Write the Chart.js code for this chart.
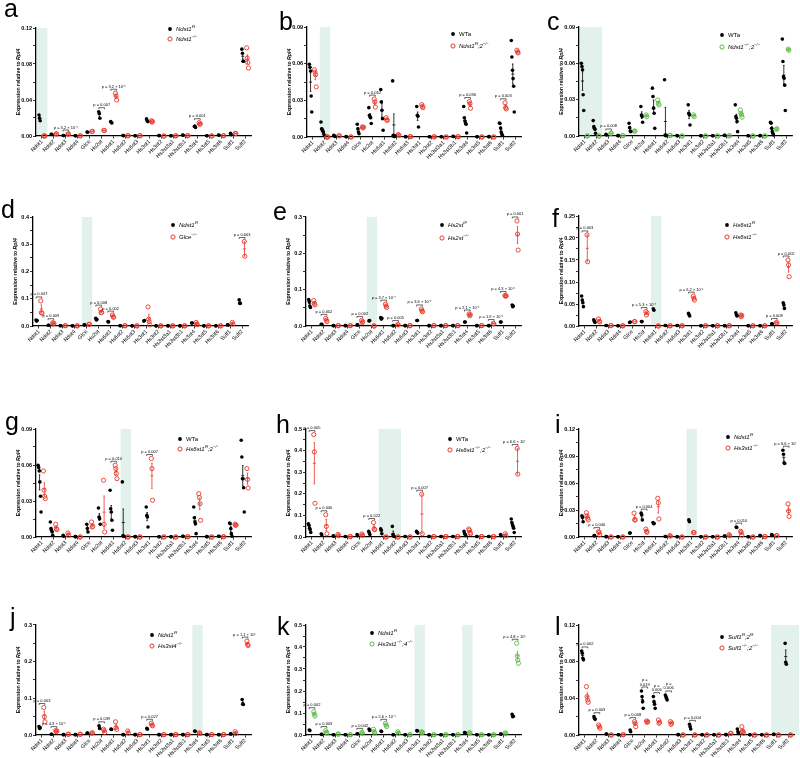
<!DOCTYPE html>
<html>
<head>
<meta charset="utf-8">
<script src="https://cdn.jsdelivr.net/npm/chart.js@4.4.0/dist/chart.umd.min.js"></script>
<style>
  body { margin: 0; background: #fff; }
  #wrap { position: relative; width: 800px; height: 758px; overflow: hidden; font-family: "Liberation Sans", Arial, sans-serif; }
  #wrap canvas { position: absolute; }
  .letter { position: absolute; font-size: 25px; line-height: 25px; color: #000; }
</style>
</head>
<body>
<div id="wrap"></div>
<script>
const genes = ['Ndst1','Ndst2','Ndst3','Ndst4','Glce','Hs2st','Hs6st1','Hs6st2','Hs6st3','Hs3st1','Hs3st2','Hs3st3a1','Hs3st3b1','Hs3st4','Hs3st5','Hs3st6','Sulf1','Sulf2'];

// replicate values per gene (same order as genes), control group then mutant group
const aCtrl = [[0.0234,0.0197,0.017],[0.002,0.0018],[0.0005,0.0006],[0.0002,0.0002],[0.0045,0.0042],[0.027,0.025,0.0197],[0.016,0.015,0.0145],[0.0005,0.0004],[0.0003,0.0003],[0.019,0.017,0.016],[0.0005,0.0004],[0.0003,0.0002],[0.001,0.0008],[0.0105,0.011,0.0095],[0.0002,0.0002],[0.001,0.0009],[0.003,0.0015],[0.0965,0.092,0.083,0.083]];
const aMut = [[0,0,0],[0.0022,0.0024],[0.002,0.0022],[0.0002,0.0002],[0.005,0.0052],[0.0063,0.006],[0.0475,0.0445,0.040],[0.0003,0.0003],[0.0003,0.0003],[0.017,0.0155,0.016],[0,0],[0.0002,0.0002],[0.0003,0.0003],[0.0148,0.013,0.0135],[0,0],[0.0003,0.0003],[0.003,0.0028],[0.098,0.0865,0.0815,0.0755]];

const bCtrl = [[0.0595,0.057,0.054,0.0336,0.0205],[0.0123,0.0068,0.006,0.005,0.004,0.002],[0.0014,0.0008,0.0005],[0.0003,0.0002],[0.0104,0.0068,0.004,0.0027],[0.024,0.0177,0.0164,0.0158,0.011],[0.0388,0.0287,0.0218,0.015,0.0055],[0.0459,0.0014,0.0005,0.0005,0.001],[0.0003,0.0002],[0.025,0.0178,0.017,0.0082],[0.0002,0.0002],[0.0002,0.0002],[0.0005,0.0004],[0.025,0.0158,0.0131,0.0115,0.0104,0.0033],[0.0002,0.0002],[0.0003,0.0003],[0.0115,0.011,0.0074,0.004,0.0027,0.0014],[0.079,0.0655,0.0546,0.0478,0.0415,0.0205]];
const bMut = [[0.055,0.053,0.051,0.041],[0,0,0],[0.001,0.001],[0,0],[0.0082,0.0074,0.008],[0.031,0.0287,0.0245],[0.0158,0.014,0.0136],[0.002,0.0014],[0.0003,0.0002],[0.0265,0.025,0.024],[0.0002,0.0001],[0,0],[0.0003,0.0002],[0.029,0.0273,0.0235],[0,0],[0,0],[0.028,0.024,0.023],[0.071,0.0696,0.0688]];

const cCtrl = [[0.060,0.0574,0.0546,0.034,0.021],[0.0127,0.0077,0.0063,0.0055,0.0022],[0.0014,0.0008],[0.0003,0.0003],[0.0105,0.0069,0.0041,0.0036],[0.0243,0.0174,0.016,0.0113],[0.0395,0.0326,0.0229,0.0188,0.0063],[0.0464,0.0008,0.0003,0.0005],[0.0003,0.0002],[0.0257,0.0188,0.0174,0.0091],[0.0002,0.0002],[0.0002,0.0002],[0.0006,0.0005],[0.0257,0.016,0.0146,0.0119,0.0036],[0.0002,0.0002],[0.0003,0.0003],[0.0113,0.0105,0.0063,0.0036,0.0022,0.0008],[0.080,0.0615,0.049,0.0477,0.042,0.021]];
const cMut = [[0,0],[0,0],[0.002,0.0025],[0.0003,0.0003],[0.0041,0.004],[0.0174,0.016],[0.0298,0.027,0.0257],[0.0005,0.0005],[0,0],[0.0174,0.016],[0,0],[0,0],[0.0002,0.0002],[0.0215,0.0188,0.0174,0.0155],[0,0],[0,0],[0.0055,0.006],[0.0718,0.0707]];

const dCtrl = [[0.022,0.018,0.02],[0.003,0.003],[0.001,0.001],[0.0005,0.0005],[0.004,0.004],[0.028,0.022,0.024],[0.016,0.015],[0.001,0.001],[0.0005,0.0005],[0.018,0.02],[0.0005,0.0005],[0.0005,0.0005],[0.0005,0.0005],[0.011,0.011],[0.0005,0.0005],[0.0005,0.0005],[0.004,0.004],[0.096,0.083,0.083]];
const dMut = [[0.092,0.049,0.047],[0.012,0.007,0.01],[0.001,0.001],[0.0005,0.0005],[0.006,0.006],[0.062,0.049,0.05],[0.04,0.034,0.032],[0.001,0.001],[0.0005,0.0005],[0.07,0.025,0.016,0.004],[0.0005,0.0005],[0.0005,0.0005],[0.0005,0.0005],[0.013,0.007,0.005],[0.0005,0.0005],[0.0005,0.0005],[0.013,0.007],[0.31,0.256]];

const eCtrl = [[0.073,0.067,0.055,0.051],[0.005,0.005],[0.001,0.001],[0.001,0.001],[0.003,0.003],[0.014,0.015],[0.023,0.019,0.021],[0.001,0.001],[0.001,0.001],[0.015,0.015],[0.001,0.001],[0.001,0.001],[0.001,0.001],[0.011,0.011],[0.001,0.001],[0.001,0.001],[0.011,0.011],[0.058,0.053,0.055]];
const eMut = [[0.07,0.062,0.058],[0.021,0.016,0.012],[0.001,0.001],[0.001,0.001],[0.015,0.009,0.012],[0,0],[0.06,0.055,0.051],[0.004,0.003],[0.001,0.001],[0.047,0.042,0.039],[0.001,0.001],[0.001,0.001],[0.001,0.001],[0.033,0.028,0.031],[0.001,0.001],[0.007,0.006],[0.084,0.082,0.083],[0.289,0.253,0.209]];

const fCtrl = [[0.068,0.059,0.053,0.044],[0.014,0.01,0.008],[0.001,0.001],[0.0005,0.0005],[0.008,0.009],[0.01,0.01],[0.039,0.036],[0.001,0.001],[0.001,0.001],[0.029,0.025,0.023],[0.0005,0.0005],[0.0005,0.0005],[0.0005,0.0005],[0.03,0.025,0.023],[0.0005,0.0005],[0.0005,0.0005],[0.005,0.005],[0.053,0.048,0.04]];
const fMut = [[0.207,0.146],[0.016,0.011,0.009],[0.001,0.001],[0.0005,0.0005],[0.01,0.01],[0.033,0.025,0.03],[0,0],[0.0005,0.0005],[0.0005,0.0005],[0.068,0.063,0.059],[0.0005,0.0005],[0.0005,0.0005],[0.0005,0.0005],[0.025,0.021,0.024],[0.0005,0.0005],[0.0005,0.0005],[0.008,0.007],[0.15,0.139,0.112]];

const gCtrl = [[0.0598,0.0579,0.0551,0.0459,0.0339,0.0208],[0.0125,0.007,0.0056,0.0042,0.0014],[0.0014,0.0006],[0.0003,0.0003],[0.0106,0.007,0.0042],[0.0242,0.0167,0.0153,0.0106],[0.039,0.0236,0.0208,0.0139,0.0056],[0.0459,0.0011,0.0006,0.0006],[0.0003,0.0003],[0.025,0.018,0.0167,0.0083],[0.0002,0.0002],[0.0002,0.0002],[0.0006,0.0005],[0.025,0.0161,0.0125,0.0111,0.0028],[0.0003,0.0003],[0.0006,0.0005],[0.0117,0.0111,0.007,0.0028,0.0006],[0.0806,0.0667,0.0486,0.0486,0.0411,0.0208]];
const gMut = [[0.055,0.039,0.034,0.032],[0.0106,0.007,0.0061],[0.0033,0.0014],[0,0],[0.0125,0.0083,0.0089],[0.0473,0.0106,0.0042],[0.0598,0.057,0.0528,0.0486],[0,0],[0,0],[0.0654,0.057,0.0306],[0,0],[0,0],[0.0002,0.0002],[0.0361,0.0328,0.0278,0.0139],[0,0],[0.0002,0.0002],[0.0106,0.0097,0.01],[0.057,0.048,0.0408]];

const hCtrl = [[0.061,0.054,0.041,0.034,0.021],[0.015,0.009],[0.005,0.004],[0.002,0.002],[0.011,0.006],[0.026,0.018,0.011],[0.038,0.031,0.015],[0.049,0.011,0.005,0.002],[0.002,0.002],[0.026,0.021,0.018],[0.002,0.002],[0.002,0.002],[0.002,0.002],[0.026,0.015,0.011,0.006],[0.002,0.002],[0.002,0.002],[0.011,0.006],[0.083,0.067,0.057,0.049,0.041,0.021]];
const hMut = [[0.474,0.394,0.156],[0.103,0.049,0.015],[0.012,0.006],[0.002,0.002],[0.014,0.008],[0.067,0.037,0.034],[0,0],[0,0],[0,0],[0.198,0.015],[0.002,0.002],[0.002,0.002],[0.002,0.002],[0.037,0.031,0.021,0.015],[0.002,0.002],[0.002,0.002],[0.015,0.006],[0.41,0.291]];

const iCtrl = [[0.0235,0.022,0.017],[0.0015,0.0015],[0.0004,0.0004],[0.0002,0.0002],[0.0044,0.0044],[0.0265,0.0247,0.019],[0.016,0.0147,0.015],[0.0005,0.0005],[0.0003,0.0003],[0.019,0.017],[0.0003,0.0003],[0.0002,0.0002],[0.001,0.001],[0.011,0.0105],[0.0002,0.0002],[0.0015,0.0015],[0.0026,0.0018],[0.0964,0.092,0.0824,0.0817]];
const iMut = [[0.027,0.0235,0.021,0.019],[0.006,0.005,0.0026],[0,0],[0,0],[0.0265,0.019,0.019],[0.0088,0.0063,0.0052],[0.043,0.038,0.02],[0.0015,0.001],[0,0],[0.005,0.005],[0,0],[0,0],[0.0026,0.0015],[0.0063,0.005,0.002],[0,0],[0.0005,0.0005],[0.0015,0.0015],[0.0368,0.029,0.0228]];

const jCtrl = [[0.023,0.018,0.02],[0.002,0.002],[0.001,0.001],[0.001,0.001],[0.005,0.005],[0.025,0.018],[0.016,0.015],[0.001,0.001],[0.001,0.001],[0.018,0.016],[0.001,0.001],[0.001,0.001],[0.001,0.001],[0.011,0.01],[0.001,0.001],[0.001,0.001],[0.003,0.003],[0.097,0.084,0.083]];
const jMut = [[0.075,0.05,0.036],[0.012,0.009,0.011],[0.002,0.002],[0.002,0.002],[0.005,0.006],[0.016,0.012,0.007],[0.036,0.02,0.015],[0.011,0.005],[0.001,0.001],[0.032,0.027,0.025],[0.001,0.001],[0.001,0.001],[0.001,0.001],[0.006,0.004],[0.001,0.001],[0.001,0.001],[0.009,0.004],[0.256,0.247,0.244]];

const kCtrl = [[0.023,0.02],[0.003,0.003],[0.001,0.001],[0.001,0.001],[0.006,0.006],[0.027,0.021],[0.018,0.016],[0.001,0.001],[0.001,0.001],[0.02,0.018],[0.001,0.001],[0.001,0.001],[0.001,0.001],[0.011,0.01],[0.001,0.001],[0.001,0.001],[0.004,0.004],[0.094,0.083,0.085]];
const kMut = [[0.106,0.095,0.086],[0.02,0.012,0.008],[0.004,0.004],[0.001,0.001],[0.012,0.008],[0.026,0.015,0.009],[0.053,0.045,0.038],[0.015,0.008],[0.001,0.001],[0.015,0.01,0.012],[0.001,0.001],[0.001,0.001],[0.001,0.001],[0.01,0.009],[0.001,0.001],[0.001,0.001],[0.01,0.006],[0.417,0.36,0.341,0.326]];

const lCtrl = [[0.0917,0.0892,0.0837,0.082],[0.02,0.0182,0.0171],[0.0011,0.0011],[0.0003,0.0003],[0.0055,0.0036],[0.048,0.0419,0.0364,0.0291],[0.0419,0.0364,0.0335,0.0291],[0.0437,0.0419,0.04,0.0382],[0.0004,0.0004],[0.0116,0.0091,0.0065],[0.0002,0.0002],[0.0002,0.0002],[0.0004,0.0004],[0.0065,0.0036,0.0018],[0.0002,0.0002],[0.0002,0.0002],[0.0007,0.0007],[0.1,0.0794,0.0772]];
const lMut = [[0.0528,0.0419,0.0382,0.0357],[0.0109,0.0091,0.0073],[0,0],[0.0003,0.0003],[0.0146,0.0127,0.0091],[0.0153,0.0138,0.0145],[0.0164,0.0127,0.014],[0.0146,0.0116,0.013],[0,0],[0,0],[0,0],[0,0],[0.0018,0.0018],[0.0091,0.0044,0.0036,0.0018],[0,0],[0,0],[0,0],[0,0]];

// p-value annotations: [gene index, text]
const aP = [[2,'p = 3.2 × 10⁻⁴'],[5,'p = 0.007'],[6,'p = 3.2 × 10⁻⁶'],[13,'p = 0.001']];
const bP = [[5,'p = 0.010'],[13,'p = 0.036'],[16,'p = 0.003']];
const cP = [[2,'p = 0.008']];
const dP = [[0,'p = 0.047'],[1,'p = 0.009'],[5,'p = 0.008'],[6,'p = 0.002'],[17,'p = 0.003']];
const eP = [[1,'p = 0.002'],[4,'p = 0.002'],[6,'p = 3.7 × 10⁻⁴'],[7,'p = 0.005'],[9,'p = 3.6 × 10⁻⁴'],[13,'p = 2.1 × 10⁻⁴'],[15,'p = 1.9 × 10⁻⁴'],[16,'p = 4.3 × 10⁻⁵'],[17,'p = 0.001']];
const fP = [[0,'p = 0.003'],[5,'p = 5.3 × 10⁻⁴'],[9,'p = 6.2 × 10⁻⁵'],[16,'p = 0.008'],[17,'p = 0.002']];
const gP = [[6,'p = 0.010'],[9,'p = 0.007']];
const hP = [[0,'p = 0.005'],[1,'p = 0.040'],[5,'p = 0.022'],[9,'p = 0.007'],[17,'p = 6.6 × 10⁻⁴']];
const iP = [[1,'p = 0.040'],[5,'p = 0.004'],[13,'p = 0.010'],[17,'p = 6.6 × 10⁻⁴']];
const jP = [[0,'p = 0.003'],[1,'p = 4.3 × 10⁻⁵'],[5,'p = 0.039'],[9,'p = 0.027'],[17,'p = 1.1 × 10⁻⁵']];
const kP = [[0,'p = 0.002'],[1,'p = 0.003'],[4,'p = 0.042'],[6,'p = 5.6 × 10⁻⁴'],[17,'p = 4.8 × 10⁻⁶']];
const lP = [[0,'p = 0.002'],[1,'p = 0.003'],[4,'p = 0.008'],[5,'p =\n0.019'],[6,'p =\n0.006'],[7,'p =\n0.006'],[9,'p = 0.004']];

const RED = '#e8392b';
const GREEN = '#5cb946';
const SHADE = '#e3f1ed';
const FONT = '"Liberation Sans", Arial, sans-serif';

const panels = [
  {id:'a', ctrl:aCtrl, mut:aMut, pv:aP, max:0.12, major:0.04, minor:0.02, dec:2, color:RED, shade:[0,0], leg:['Ndst1^f/f','Ndst1^−/−'], box:[36,252,28,136], legXY:[170,29,39], letter:[4,17]},
  {id:'b', ctrl:bCtrl, mut:bMut, pv:bP, max:0.09, major:0.03, minor:0.015, dec:2, color:RED, shade:[1,1], leg:['WTa','Ndst1^f/f;2^−/−'], box:[307,522,27,137], legXY:[453,34,46], letter:[279,30]},
  {id:'c', ctrl:cCtrl, mut:cMut, pv:cP, max:0.09, major:0.03, minor:0.015, dec:2, color:GREEN, shade:[0,1], leg:['WTa','Ndst1^−/−;2^−/−'], box:[579,793,27,136], legXY:[722,35,47], letter:[547,30]},
  {id:'d', ctrl:dCtrl, mut:dMut, pv:dP, max:0.4, major:0.1, minor:0.05, dec:1, color:RED, shade:[4,4], leg:['Ndst1^f/f','Glce^−/−'], box:[33,249,217,326], legXY:[173,225,237], letter:[1,218]},
  {id:'e', ctrl:eCtrl, mut:eMut, pv:eP, max:0.3, major:0.1, minor:0.05, dec:1, color:RED, shade:[5,5], leg:['Hs2st^f/f','Hs2st^−/−'], box:[306,522,217,326], legXY:[442,225,238], letter:[273,220]},
  {id:'f', ctrl:fCtrl, mut:fMut, pv:fP, max:0.25, major:0.05, minor:0.025, dec:2, color:RED, shade:[6,6], leg:['Hs6st1^f/f','Hs6st1^−/−'], box:[579,793,216,326], legXY:[727,225,237], letter:[552,227]},
  {id:'g', ctrl:gCtrl, mut:gMut, pv:gP, max:0.09, major:0.03, minor:0.015, dec:2, color:RED, shade:[7,7], leg:['WTa','Hs6st1^f/f;2^−/−'], box:[36,252,429,537], legXY:[180,439,449], letter:[5,430]},
  {id:'h', ctrl:hCtrl, mut:hMut, pv:hP, max:0.5, major:0.1, minor:0.05, dec:1, color:RED, shade:[6,7], leg:['WTa','Hs6st1^−/−;2^−/−'], box:[306,522,429,537], legXY:[450,439,450], letter:[276,433]},
  {id:'i', ctrl:iCtrl, mut:iMut, pv:iP, max:0.12, major:0.03, minor:0.015, dec:2, color:RED, shade:[9,9], leg:['Ndst1^f/f','Hs3st1^−/−'], box:[579,793,429,537], legXY:[728,437,448], letter:[555,433]},
  {id:'j', ctrl:jCtrl, mut:jMut, pv:jP, max:0.3, major:0.1, minor:0.05, dec:1, color:RED, shade:[13,13], leg:['Ndst1^f/f','Hs3st4^−/−'], box:[36,252,625,735], legXY:[152,635,646], letter:[10,626]},
  {id:'k', ctrl:kCtrl, mut:kMut, pv:kP, max:0.5, major:0.1, minor:0.05, dec:1, color:GREEN, shade:[9,9,13,13], leg:['Ndst1^f/f','Hs3st1^−/−;4^−/−'], box:[306,522,625,735], legXY:[372,633,644], letter:[277,635]},
  {id:'l', ctrl:lCtrl, mut:lMut, pv:lP, max:0.12, major:0.04, minor:0.02, dec:2, color:RED, shade:[16,17], toEdge:true, leg:['Sulf1^f/f;2^f/f','Sulf1^−/−;2^−/−'], box:[579,795,625,735], legXY:[722,637,648], letter:[555,635]}
];

const mean = a => a.reduce((s, v) => s + v, 0) / a.length;
const sem = a => {
  if (a.length < 2) return 0;
  const m = mean(a);
  return Math.sqrt(a.reduce((s, v) => s + (v - m) ** 2, 0) / (a.length - 1) / a.length);
};

// legend / label text: '^' starts superscript, ';' ends it
function richText(ctx, x, y, str, size, measureOnly) {
  const italic = str !== 'WTa';
  let sup = false, buf = '', cx = x;
  const flush = () => {
    if (!buf) return;
    const fs = sup ? size * 0.65 : size;
    ctx.font = (italic ? 'italic ' : '') + fs + 'px ' + FONT;
    if (!measureOnly) ctx.fillText(buf, cx, sup ? y - size * 0.38 : y);
    cx += ctx.measureText(buf).width;
    buf = '';
  };
  for (const ch of str) {
    if (ch === '^') { flush(); sup = true; }
    else if (ch === ';' && sup) { flush(); sup = false; buf = ';'; }
    else buf += ch;
  }
  flush();
  return cx - x;
}

const extras = {
  id: 'extras',
  beforeDraw(chart, args, p) {
    const {ctx, chartArea} = chart;
    const x = chart.scales.x;
    ctx.save();
    ctx.fillStyle = SHADE;
    for (let k = 0; k < p.shade.length; k += 2) {
      const x0 = x.getPixelForValue(p.shade[k] - 0.42);
      const x1 = p.toEdge ? chart.width : x.getPixelForValue(p.shade[k + 1] + 0.45);
      ctx.fillRect(x0, chartArea.top, x1 - x0, chartArea.bottom - chartArea.top);
    }
    ctx.restore();
  },
  afterDatasetsDraw(chart, args, p) {
    const {ctx} = chart;
    const xs = chart.scales.x, ys = chart.scales.y;
    ctx.save();
    // mean ± SEM
    [[p.ctrl, -0.2, '#000'], [p.mut, 0.2, p.color]].forEach(([grp, off, col]) => {
      grp.forEach((vals, i) => {
        const m = mean(vals);
        if (m <= 0) return;
        const s = sem(vals);
        const cx = xs.getPixelForValue(i + off);
        const w = xs.getPixelForValue(0.13) - xs.getPixelForValue(0);
        const cw = w * 0.5;
        ctx.strokeStyle = col;
        ctx.lineWidth = 0.8;
        ctx.beginPath();
        ctx.moveTo(cx - w, ys.getPixelForValue(m)); ctx.lineTo(cx + w, ys.getPixelForValue(m));
        if (s > 0) {
          const yt = ys.getPixelForValue(m + s), yb = ys.getPixelForValue(Math.max(m - s, 0));
          ctx.moveTo(cx, yt); ctx.lineTo(cx, yb);
          ctx.moveTo(cx - cw, yt); ctx.lineTo(cx + cw, yt);
          ctx.moveTo(cx - cw, yb); ctx.lineTo(cx + cw, yb);
        }
        ctx.stroke();
      });
    });
    // p-value brackets
    ctx.strokeStyle = '#000';
    ctx.fillStyle = '#000';
    ctx.lineWidth = 0.6;
    ctx.textAlign = 'center';
    ctx.textBaseline = 'alphabetic';
    ctx.font = '4px ' + FONT;
    p.pv.forEach(([i, txt]) => {
      let top = 0;
      [p.ctrl[i], p.mut[i]].forEach(v => { top = Math.max(top, ...v, mean(v) + sem(v)); });
      const by = ys.getPixelForValue(top) - 4;
      const x0 = xs.getPixelForValue(i - 0.24), x1 = xs.getPixelForValue(i + 0.24);
      ctx.beginPath();
      ctx.moveTo(x0, by + 1.5); ctx.lineTo(x0, by); ctx.lineTo(x1, by); ctx.lineTo(x1, by + 1.5);
      ctx.stroke();
      const lines = txt.split('\n');
      lines.forEach((ln, k) => {
        ctx.fillText(ln, xs.getPixelForValue(i), by - 1.5 - (lines.length - 1 - k) * 4.5);
      });
    });
    ctx.restore();
  },
  afterDraw(chart, args, p) {
    const {ctx, chartArea} = chart;
    const left = p.box[0] - 34, top = p.box[2] - 8;
    ctx.save();
    ctx.fillStyle = '#000';
    ctx.textBaseline = 'middle';
    ctx.textAlign = 'left';
    // legend
    const lx = p.legXY[0] - left;
    [[p.legXY[1], '#000', true], [p.legXY[2], p.color, false]].forEach(([ly, col, filled], k) => {
      const y = ly - top;
      ctx.beginPath();
      if (filled) {
        ctx.fillStyle = '#000';
        ctx.arc(lx, y, 1.9, 0, Math.PI * 2);
        ctx.fill();
      } else {
        ctx.strokeStyle = col;
        ctx.lineWidth = 1;
        ctx.arc(lx, y, 2.1, 0, Math.PI * 2);
        ctx.stroke();
      }
      ctx.fillStyle = '#000';
      richText(ctx, lx + 6, y, p.leg[k], 6);
    });
    // y-axis title
    ctx.translate(chartArea.left - 17, (chartArea.top + chartArea.bottom) / 2);
    ctx.rotate(-Math.PI / 2);
    ctx.font = 'bold 5.2px ' + FONT;
    const t1 = 'Expression relative to ';
    ctx.font = 'bold 5.2px ' + FONT;
    const w1 = ctx.measureText(t1).width;
    ctx.font = 'bold italic 5.2px ' + FONT;
    const w2 = ctx.measureText('Rpl4').width;
    let sx = -(w1 + w2) / 2;
    ctx.font = 'bold 5.2px ' + FONT;
    ctx.fillText(t1, sx, 0);
    ctx.font = 'bold italic 5.2px ' + FONT;
    ctx.fillText('Rpl4', sx + w1, 0);
    ctx.restore();
  }
};

const wrap = document.getElementById('wrap');

panels.forEach(p => {
  const [x0, x1, y0, y1] = p.box;
  const left = x0 - 34, top = y0 - 8;
  const w = x1 - left + 4, h = y1 - top + 24;
  const cv = document.createElement('canvas');
  cv.width = w; cv.height = h;
  cv.style.left = left + 'px'; cv.style.top = top + 'px';
  cv.style.width = w + 'px'; cv.style.height = h + 'px';
  wrap.appendChild(cv);

  const letter = document.createElement('div');
  letter.className = 'letter';
  letter.textContent = p.id;
  letter.style.left = p.letter[0] + 'px';
  letter.style.top = (p.letter[1] - 21) + 'px';
  wrap.appendChild(letter);

  const toPoints = (grp, off) => grp.flatMap((vals, i) =>
    vals.map((v, k) => ({x: i + off + (k - (vals.length - 1) / 2) * 0.05, y: v})));

  new Chart(cv, {
    type: 'scatter',
    data: {
      datasets: [
        {data: toPoints(p.ctrl, -0.2), backgroundColor: '#000', borderColor: '#000', pointRadius: 1.8, borderWidth: 0, clip: false},
        {data: toPoints(p.mut, 0.2), backgroundColor: 'rgba(255,255,255,0)', borderColor: p.color, pointRadius: 2.1, borderWidth: 0.9, clip: false}
      ]
    },
    options: {
      responsive: false,
      animation: false,
      layout: {padding: {left: 0, top: 8, right: 4, bottom: 0}},
      plugins: {legend: {display: false}, tooltip: {enabled: false}, extras: p},
      scales: {
        x: {
          type: 'linear', min: -0.5, max: 17.5,
          afterBuildTicks: s => { s.ticks = genes.map((g, i) => ({value: i})); },
          afterFit: s => { s.height = 24; },
          ticks: {autoSkip: false, minRotation: 45, maxRotation: 45, padding: 0, color: '#000',
                  font: {size: 5.5, family: FONT}, callback: v => genes[v]},
          grid: {drawOnChartArea: false, color: '#000', tickLength: 2.5, lineWidth: 0.8},
          border: {color: '#000', width: 1.3}
        },
        y: {
          min: 0, max: p.max,
          afterBuildTicks: s => {
            const n = Math.round(p.max / p.minor);
            s.ticks = Array.from({length: n + 1}, (_, k) => ({value: k * p.minor}));
          },
          afterFit: s => { s.width = 34; },
          ticks: {autoSkip: false, padding: 1, color: '#000', font: {size: 5.5, weight: 'bold', family: FONT},
                  callback: v => { const r = v / p.major; return Math.abs(r - Math.round(r)) < 1e-6 ? v.toFixed(p.dec) : ''; }},
          grid: {drawOnChartArea: false, color: '#000', tickLength: 3, lineWidth: 0.8},
          border: {color: '#000', width: 1.3}
        }
      }
    },
    plugins: [extras]
  });
});
</script>
</body>
</html>
